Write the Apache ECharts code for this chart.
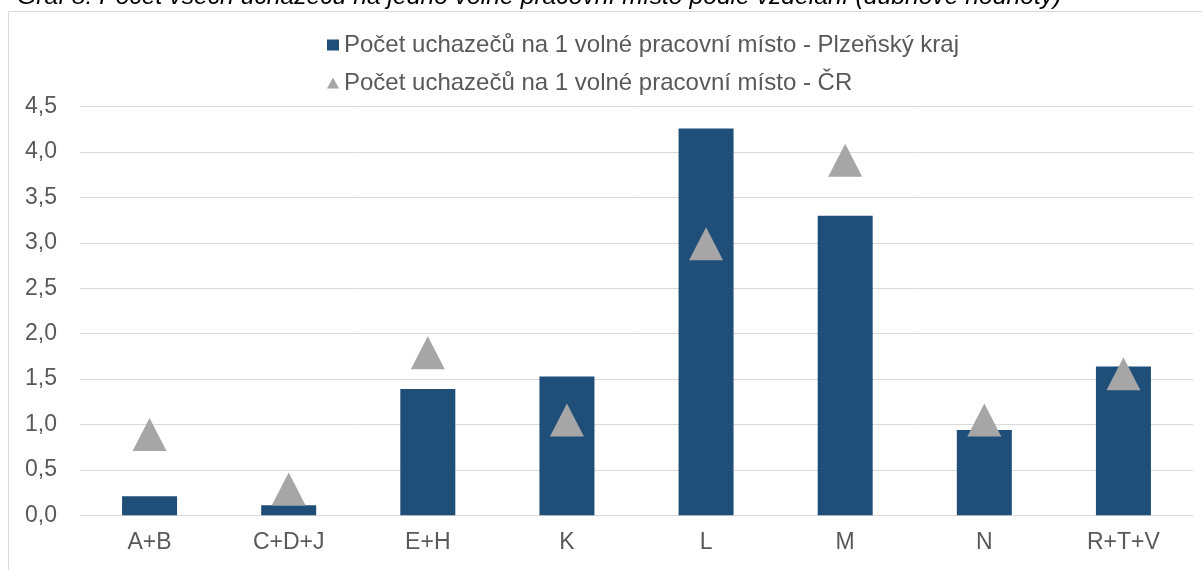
<!DOCTYPE html>
<html>
<head>
<meta charset="utf-8">
<script src="https://cdn.jsdelivr.net/npm/echarts@6/dist/echarts.min.js"></script>
<style>
  html, body { margin: 0; padding: 0; background: #fff; }
  #chart { width: 1202px; height: 570px; }
</style>
</head>
<body>
<div id="chart"></div>
<script>
var categories = ['A+B', 'C+D+J', 'E+H', 'K', 'L', 'M', 'N', 'R+T+V'];
var plzenValues = [0.21, 0.11, 1.39, 1.53, 4.26, 3.30, 0.94, 1.64];
var crValues = [0.89, 0.29, 1.79, 1.05, 2.99, 3.91, 1.05, 1.56];
var seriesNames = [
    'Počet uchazečů na 1 volné pracovní místo - Plzeňský kraj',
    'Počet uchazečů na 1 volné pracovní místo - ČR'
];
var titleText = 'Graf 8: Počet všech uchazečů na jedno volné pracovní místo podle vzdělání (dubnové hodnoty)';

var font = 'Liberation Sans, Arial, sans-serif';

echarts.init(document.getElementById('chart')).setOption({
    animation: false,
    graphic: [
        {
            type: 'rect',
            shape: { x: 8.5, y: 11.5, width: 1250, height: 700 },
            style: { fill: 'none', stroke: '#d9d9d9', lineWidth: 1 },
            silent: true
        },
        {
            type: 'text',
            x: 17,
            y: 10,
            style: {
                text: titleText,
                font: 'italic 24.7px ' + font,
                fill: '#000',
                textVerticalAlign: 'bottom'
            },
            silent: true
        }
    ],
    grid: {
        left: 80,
        right: 9,
        top: 106.7,
        bottom: 54.7
    },
    legend: {
        orient: 'vertical',
        left: 322,
        top: 28,
        itemGap: 14,
        itemWidth: 12,
        itemHeight: 11,
        textStyle: { color: '#595959', fontSize: 24, fontFamily: font },
        data: [
            { name: seriesNames[0], icon: 'rect' },
            { name: seriesNames[1], icon: 'triangle' }
        ]
    },
    xAxis: {
        type: 'category',
        data: categories,
        axisTick: { show: false },
        axisLine: { show: false },
        axisLabel: {
            color: '#595959',
            fontSize: 23,
            fontFamily: font,
            margin: 16
        }
    },
    yAxis: {
        type: 'value',
        min: 0,
        max: 4.5,
        interval: 0.5,
        axisLine: { show: false },
        axisTick: { show: false },
        splitLine: { lineStyle: { color: '#d9d9d9', width: 1 } },
        axisLabel: {
            color: '#595959',
            fontSize: 23,
            fontFamily: font,
            margin: 23,
            formatter: function (v) {
                return v.toFixed(1).replace('.', ',');
            }
        }
    },
    series: [
        {
            name: seriesNames[0],
            type: 'bar',
            data: plzenValues,
            barWidth: 55,
            itemStyle: { color: '#1f4e79' }
        },
        {
            name: seriesNames[1],
            type: 'scatter',
            data: crValues,
            symbol: 'triangle',
            symbolSize: [34, 33],
            itemStyle: { color: '#a6a6a6', opacity: 1 }
        }
    ]
});
</script>
</body>
</html>
